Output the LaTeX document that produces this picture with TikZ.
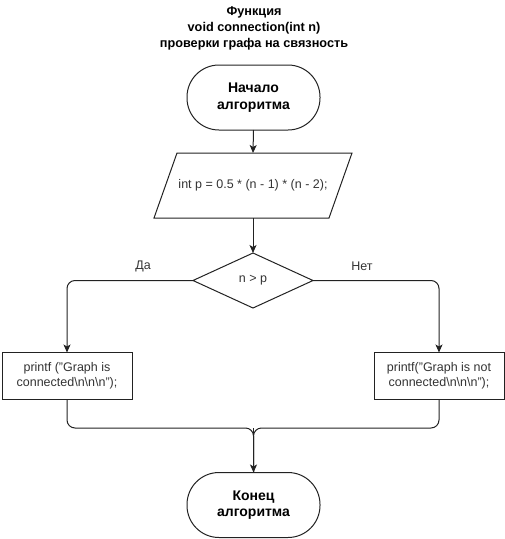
\documentclass[tikz,border=0pt]{standalone}
\usepackage{fontspec}
\setmainfont{Liberation Sans}
\usetikzlibrary{shapes.geometric,arrows.meta,calc}
\definecolor{txt}{HTML}{333333}
\definecolor{ln}{HTML}{222222}
\begin{document}
\begin{tikzpicture}[x=1pt,y=1pt,
  every node/.style={inner sep=0pt, outer sep=0pt},
  term/.style={draw=ln, line width=1pt, rectangle, rounded corners=32pt,
    minimum width=133pt, minimum height=65pt, align=center,
    font=\fontsize{14}{16.5}\selectfont\bfseries},
  procbox/.style={draw=ln, line width=1pt, rectangle, minimum width=130pt,
    minimum height=47pt, align=center, text=txt,
    font=\fontsize{12.5}{15.5}\selectfont},
  decbox/.style={draw=ln, line width=1pt, diamond, minimum width=120pt,
    minimum height=55pt, text=txt, font=\fontsize{12.5}{14}\selectfont},
  iobox/.style={rectangle, minimum width=175pt, minimum height=65pt,
    text=txt, font=\fontsize{12.5}{14}\selectfont},
  lbl/.style={text=txt, font=\fontsize{12.5}{14}\selectfont},
  arr/.style={draw=ln, line width=1pt, -{Stealth[length=8pt,width=7pt,inset=2pt]}},
  conn/.style={draw=ln, line width=1pt}
]
\useasboundingbox (0,0) rectangle (505,-539);

\node[align=center, font=\fontsize{12.7}{16}\selectfont\bfseries] (title) at (254,-28)
  {Функция\\void connection(int n)\\проверки графа на связность};

\node[term] (start) at (253.5,-97.5) {Начало\\алгоритма};
\node[iobox] (calc) at (253,-185.5) {int p = 0.5 * (n - 1) * (n - 2);};
\draw[conn] ([xshift=11.5pt]calc.north west) -- ([xshift=11.5pt]calc.north east)
  -- ([xshift=-11.5pt]calc.south east) -- ([xshift=-11.5pt]calc.south west) -- cycle;
\node[decbox] (dec) at (253,-280.5) {n > p};
\node[procbox] (yes) at (67,-376) {printf ("Graph is\\connected\textbackslash n\textbackslash n\textbackslash n");};
\node[procbox] (no) at (439,-376) {printf("Graph is not\\connected\textbackslash n\textbackslash n\textbackslash n");};
\node[term] (stop) at (253.5,-505) {Конец\\алгоритма};

\node[lbl] (lyes) at (143,-266) {Да};
\node[lbl] (lno) at (362,-266) {Нет};

\coordinate (m) at (253.5,-428);

\draw[arr] (start.south) -- (calc.north);
\draw[arr] (calc.south) -- (dec.north);
\draw[arr, rounded corners=8pt] (dec.west) -| (yes.north);
\draw[arr, rounded corners=8pt] (dec.east) -| (no.north);
\draw[conn, rounded corners=8pt] (yes.south) |- (m) -- (stop.north);
\draw[conn, rounded corners=8pt] (no.south) |- (m) -- (stop.north);
\draw[arr] (m) -- (stop.north);
\end{tikzpicture}
\end{document}
